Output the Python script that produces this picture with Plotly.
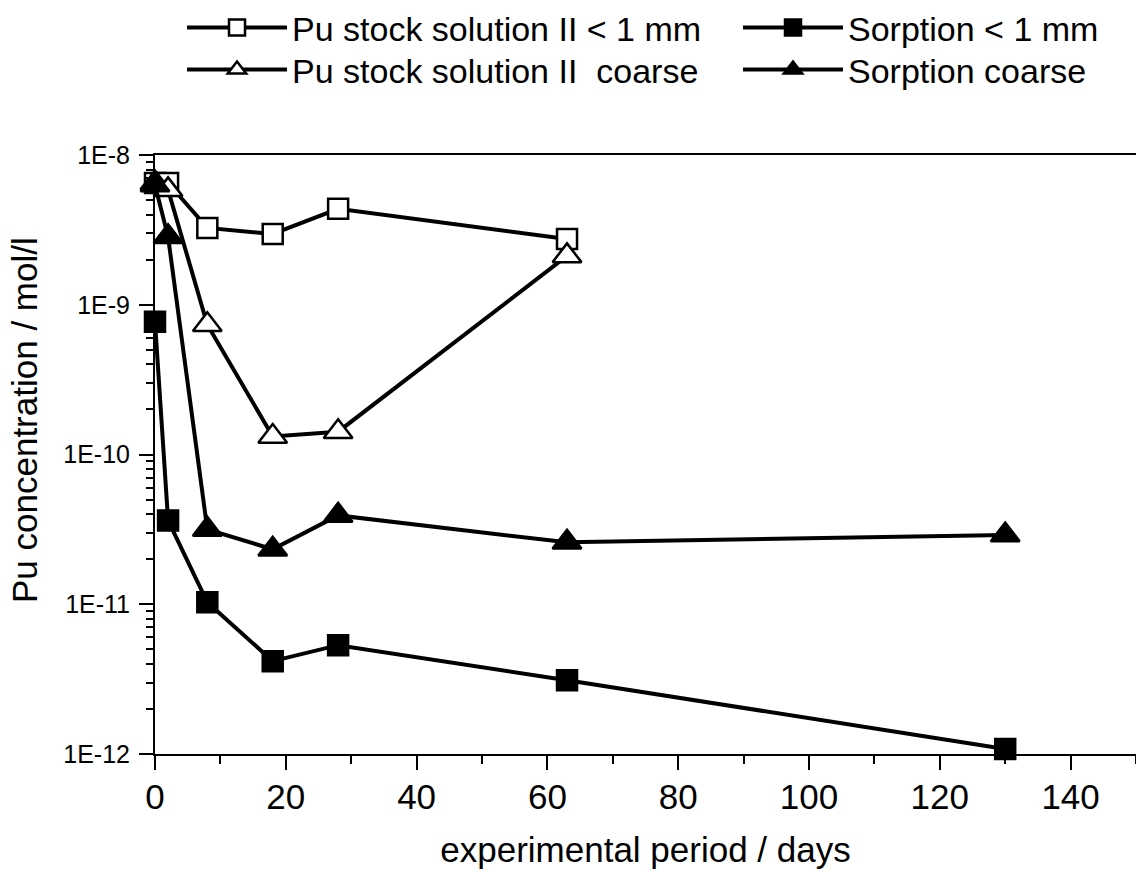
import plotly.graph_objects as go

days_stock_fine = [0, 2, 8, 18, 28, 63]
stock_fine = [6.5e-9, 6.5e-9, 3.26e-9, 2.97e-9, 4.37e-9, 2.75e-9]

days_sorp_fine = [0, 2, 8, 18, 28, 63, 130]
sorp_fine = [7.7e-10, 3.63e-11, 1.03e-11, 4.17e-12, 5.33e-12, 3.11e-12, 1.08e-12]

days_stock_coarse = [0, 2, 8, 18, 28, 63]
stock_coarse = [6.5e-9, 5.85e-9, 7.35e-10, 1.32e-10, 1.42e-10, 2.12e-9]

days_sorp_coarse = [0, 2, 8, 18, 28, 63, 130]
sorp_coarse = [6.3e-9, 2.84e-9, 3.16e-11, 2.33e-11, 3.92e-11, 2.59e-11, 2.9e-11]

names = ["Pu stock solution II < 1 mm", "Sorption < 1 mm",
         "Pu stock solution II  coarse", "Sorption coarse"]

ytickvals = [1e-12, 1e-11, 1e-10, 1e-9, 1e-8]
yticktext = ["1E-12", "1E-11", "1E-10", "1E-9", "1E-8"]

y_title = "Pu concentration / mol/l"
x_title = "experimental period / days"

fig = go.Figure()

def add(x, y, name, symbol, fill, size, legend):
    fig.add_trace(go.Scatter(
        x=x, y=y, name=name, mode="lines+markers",
        line=dict(color="black", width=4),
        marker=dict(symbol=symbol, size=size, color=fill,
                    line=dict(color="black", width=2.5)),
        cliponaxis=False, legend=legend,
    ))

add(days_stock_fine, stock_fine, names[0], "square", "white", 20, "legend")
add(days_sorp_fine, sorp_fine, names[1], "square", "black", 20, "legend2")
add(days_stock_coarse, stock_coarse, names[2], "triangle-up", "white", 25, "legend3")
add(days_sorp_coarse, sorp_coarse, names[3], "triangle-up", "black", 25, "legend4")

minor_y = []
for e in range(-12, -8):
    for m in range(2, 10):
        minor_y.append(m * 10.0 ** e)

leg_common = dict(orientation="h", xanchor="left", yanchor="middle",
                  xref="container", yref="container",
                  font=dict(size=34), itemwidth=100,
                  bgcolor="rgba(0,0,0,0)", borderwidth=0)

W, H = 1136, 872
L, R, T, B = 155, 0, 155, 118
PW, PH = W - L - R, H - T - B

fig.update_layout(
    width=W, height=H,
    margin=dict(l=L, r=R, t=T, b=B, autoexpand=False),
    paper_bgcolor="white", plot_bgcolor="white",
    font=dict(family="Arial", color="black"),
    showlegend=True,
    legend=dict(x=182 / W, y=1 - 28 / H, **leg_common),
    legend2=dict(x=738 / W, y=1 - 28 / H, **leg_common),
    legend3=dict(x=182 / W, y=1 - 70 / H, **leg_common),
    legend4=dict(x=738 / W, y=1 - 70 / H, **leg_common),
    xaxis=dict(
        range=[0, 150], tickvals=[0, 20, 40, 60, 80, 100, 120, 140],
        ticks="outside", ticklen=14, tickwidth=2, tickcolor="black",
        showline=True, linecolor="black", linewidth=2, mirror=True,
        showgrid=False, zeroline=False,
        tickfont=dict(size=35), ticklabelstandoff=-3,
        minor=dict(tickvals=[10, 30, 50, 70, 90, 110, 130, 150], ticks="outside",
                   ticklen=8, tickwidth=2, tickcolor="black", showgrid=False),
        title=dict(text=x_title, font=dict(size=35), standoff=22),
    ),
    yaxis=dict(
        type="log", range=[-12, -8], tickvals=ytickvals, ticktext=yticktext,
        ticks="outside", ticklen=14, tickwidth=2, tickcolor="black",
        showline=True, linecolor="black", linewidth=2,
        showgrid=False, zeroline=False,
        tickfont=dict(size=25), ticklabelstandoff=4,
        minor=dict(tickvals=minor_y, ticks="outside", ticklen=7, tickwidth=2,
                   tickcolor="black", showgrid=False),
    ),
    annotations=[dict(
        text=y_title, textangle=-90, showarrow=False,
        xref="paper", yref="paper",
        x=(24 - L) / PW, y=(T + PH - 420) / PH,
        xanchor="center", yanchor="middle",
        font=dict(size=35, color="black"),
    )],
)

fig.write_html("out.html")
